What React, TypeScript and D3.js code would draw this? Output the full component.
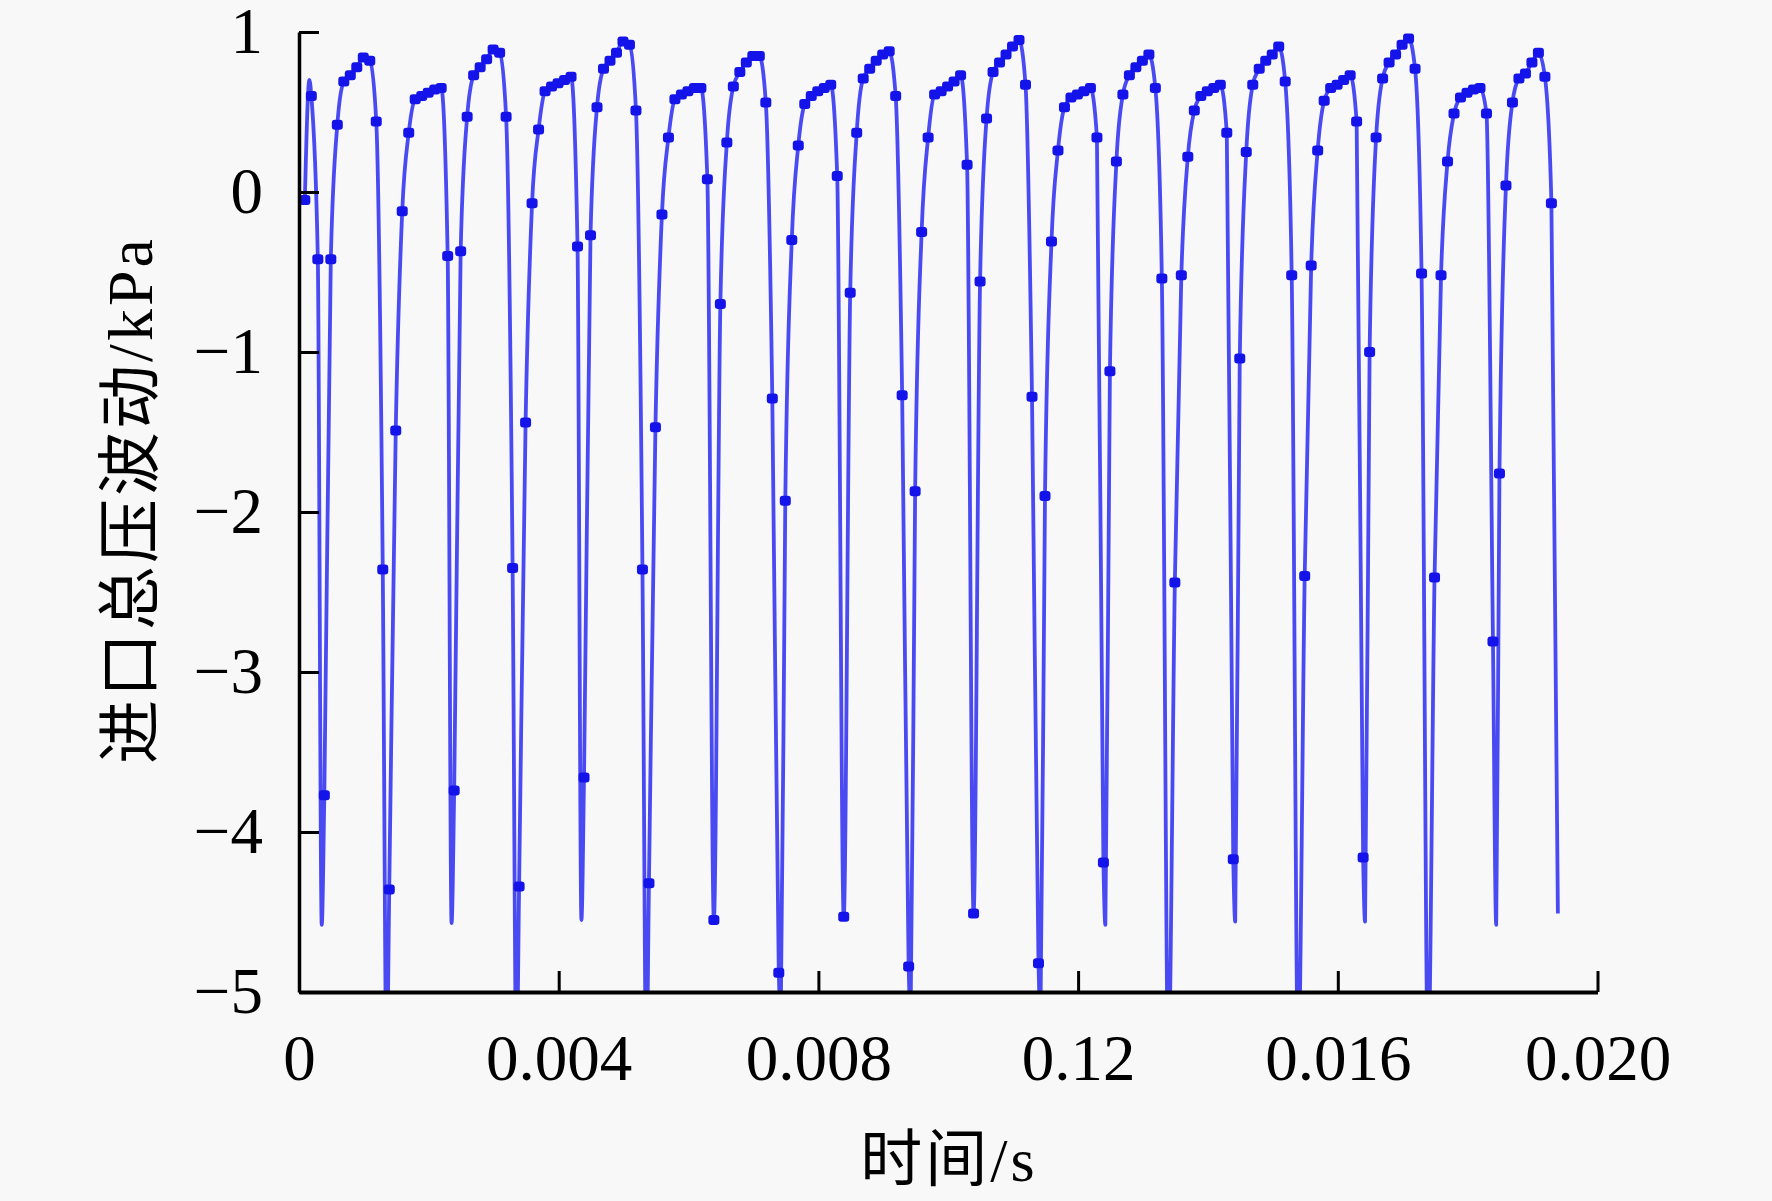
import * as d3 from 'd3';
import React, { FC, useEffect, useRef } from 'react';

// recorded samples: one marker every 0.1 ms, first one at 0.09 ms
const SAMPLE_START = 0.00009;
const SAMPLE_STEP = 0.0001;
const pressure: number[] = [
	-0.05, 0.6, -0.42, -3.77, -0.42, 0.42, 0.69, 0.73, 0.78, 0.84,
	0.82, 0.44, -2.36, -4.36, -1.49, -0.12, 0.37, 0.58, 0.6, 0.62,
	0.64, 0.65, -0.4, -3.74, -0.37, 0.47, 0.73, 0.78, 0.83, 0.89,
	0.87, 0.47, -2.35, -4.34, -1.44, -0.07, 0.39, 0.63, 0.66, 0.68,
	0.7, 0.72, -0.34, -3.66, -0.27, 0.53, 0.77, 0.82, 0.87, 0.94,
	0.92, 0.51, -2.36, -4.32, -1.47, -0.14, 0.34, 0.58, 0.61, 0.63,
	0.65, 0.65, 0.08, -4.55, -0.7, 0.31, 0.66, 0.75, 0.81, 0.85,
	0.85, 0.56, -1.29, -4.88, -1.93, -0.3, 0.29, 0.55, 0.6, 0.63,
	0.65, 0.67, 0.1, -4.53, -0.63, 0.37, 0.71, 0.77, 0.82, 0.86,
	0.88, 0.6, -1.27, -4.84, -1.87, -0.25, 0.34, 0.61, 0.63, 0.66,
	0.69, 0.73, 0.17, -4.51, -0.56, 0.46, 0.75, 0.81, 0.86, 0.91,
	0.95, 0.67, -1.28, -4.82, -1.9, -0.31, 0.26, 0.53, 0.59, 0.61,
	0.63, 0.65, 0.34, -4.19, -1.12, 0.19, 0.61, 0.73, 0.78, 0.82,
	0.86, 0.65, -0.54, -5.45, -2.44, -0.52, 0.22, 0.51, 0.6, 0.63,
	0.65, 0.67, 0.37, -4.17, -1.04, 0.25, 0.67, 0.77, 0.82, 0.86,
	0.91, 0.69, -0.52, -5.45, -2.4, -0.46, 0.26, 0.57, 0.65, 0.67,
	0.7, 0.73, 0.44, -4.16, -1.0, 0.34, 0.71, 0.81, 0.86, 0.92,
	0.96, 0.77, -0.51, -5.45, -2.41, -0.52, 0.19, 0.49, 0.59, 0.62,
	0.64, 0.65, 0.49, -2.81, -1.76, 0.04, 0.56, 0.71, 0.74, 0.81,
	0.87, 0.72, -0.07,
];

// points of the curve that fall between samples (troughs, first peak, end) - no marker
const extraTimes = [
	0.00016, 0.00035, 0.00135, 0.00235, 0.00335, 0.00435, 0.00535, 0.00742, 0.00942,
	0.01142, 0.01242, 0.01442, 0.01642, 0.01844, 0.01939,
];
const extraValues = [
	0.7, -4.58, -5.5, -4.57, -5.5, -4.55, -5.5, -5.15, -5.15, -5.15, -4.58, -4.56, -4.56, -4.58,
	-4.51,
];

const xTicks = [0, 0.004, 0.008, 0.012, 0.016, 0.02];
const xTickLabels = ['0', '0.004', '0.008', '0.12', '0.016', '0.020'];
const yTicks = [1, 0, -1, -2, -3, -4, -5];
const yTickLabels = ['1', '0', '−1', '−2', '−3', '−4', '−5'];
const xTitle = '时间/s';
const yTitle = '进口总压波动/kPa';

const App: FC = () => {
	const containerDiv = useRef<HTMLDivElement>(null);
	const { height, width } = { height: 1201, width: 1772 };
	const margin = { top: 32, right: 174.5, bottom: 209, left: 299 };

	useEffect(() => {
		const x = d3
			.scaleLinear()
			.domain([0, 0.02])
			.range([margin.left, width - margin.right]);
		const y = d3
			.scaleLinear()
			.domain([-5, 1])
			.range([height - margin.bottom, margin.top]);

		const samples = pressure.map((v, i) => ({ t: SAMPLE_START + i * SAMPLE_STEP, v }));
		const extras = extraTimes.map((t, i) => ({ t, v: extraValues[i] }));
		const curve = samples.concat(extras).sort((a, b) => a.t - b.t);

		const svg = d3
			.create('svg')
			.attr('width', width)
			.attr('height', height)
			.attr('viewBox', `0 0 ${width} ${height}`)
			.style('display', 'block');

		svg.append('rect').attr('width', width).attr('height', height).attr('fill', '#f8f8f8');

		svg.append('defs')
			.append('clipPath')
			.attr('id', 'plot-clip')
			.append('rect')
			.attr('x', margin.left)
			.attr('y', margin.top)
			.attr('width', width - margin.right - margin.left)
			.attr('height', height - margin.bottom - margin.top);

		const plot = svg.append('g').attr('clip-path', 'url(#plot-clip)');

		const line = d3
			.line<{ t: number; v: number }>()
			.x(d => x(d.t))
			.y(d => y(d.v))
			.curve(d3.curveMonotoneX);

		plot.append('path')
			.datum(curve)
			.attr('d', line)
			.attr('fill', 'none')
			.attr('stroke', '#4a4af2')
			.attr('stroke-width', 3.8)
			.attr('stroke-linejoin', 'round');

		plot.append('g')
			.selectAll('rect')
			.data(samples)
			.join('rect')
			.attr('x', d => x(d.t) - 5.5)
			.attr('y', d => y(d.v) - 5)
			.attr('width', 11)
			.attr('height', 10)
			.attr('rx', 3)
			.attr('fill', '#1414ea');

		const font = "'Liberation Serif', 'Times New Roman', serif";

		const xAxis = svg
			.append('g')
			.attr('transform', `translate(0,${height - margin.bottom})`)
			.call(
				d3
					.axisBottom(x)
					.tickValues(xTicks)
					.tickFormat((d, i) => xTickLabels[i])
					.tickSizeInner(-21)
					.tickSizeOuter(0)
					.tickPadding(42)
			);
		xAxis.select('.domain').attr('stroke', '#000').attr('stroke-width', 4);
		xAxis.selectAll('.tick line').attr('stroke', '#000').attr('stroke-width', 3);
		xAxis.selectAll('.tick text')
			.attr('fill', '#000')
			.attr('font-family', font)
			.attr('font-size', 65);

		const yAxis = svg
			.append('g')
			.attr('transform', `translate(${margin.left},0)`)
			.call(
				d3
					.axisLeft(y)
					.tickValues(yTicks)
					.tickFormat((d, i) => yTickLabels[i])
					.tickSizeInner(-20)
					.tickSizeOuter(0)
					.tickPadding(36)
			);
		yAxis.select('.domain').attr('stroke', '#000').attr('stroke-width', 3.5);
		yAxis.selectAll('.tick line').attr('stroke', '#000').attr('stroke-width', 3);
		yAxis.selectAll('.tick text')
			.attr('fill', '#000')
			.attr('font-family', font)
			.attr('font-size', 65);

		const titleFont = "'Liberation Serif', 'Noto Sans CJK SC', serif";

		svg.append('text')
			.attr('x', 949)
			.attr('y', 1181)
			.attr('text-anchor', 'middle')
			.attr('font-family', titleFont)
			.attr('font-size', 62)
			.style('letter-spacing', '3px')
			.attr('fill', '#000')
			.text(xTitle);

		svg.append('text')
			.attr('transform', 'translate(152,500) rotate(-90)')
			.attr('text-anchor', 'middle')
			.attr('font-family', titleFont)
			.attr('font-size', 64)
			.style('letter-spacing', '3px')
			.attr('fill', '#000')
			.text(yTitle);

		const container = containerDiv.current as HTMLDivElement;
		if (container) {
			while (container.firstChild) container.removeChild(container.firstChild);
			container.appendChild(svg.node() as SVGSVGElement);
		}
	}, []);

	return (
		<div
			ref={containerDiv}
			style={{ position: 'absolute', left: 0, top: 0, width, height }}
		></div>
	);
};

export default App;
